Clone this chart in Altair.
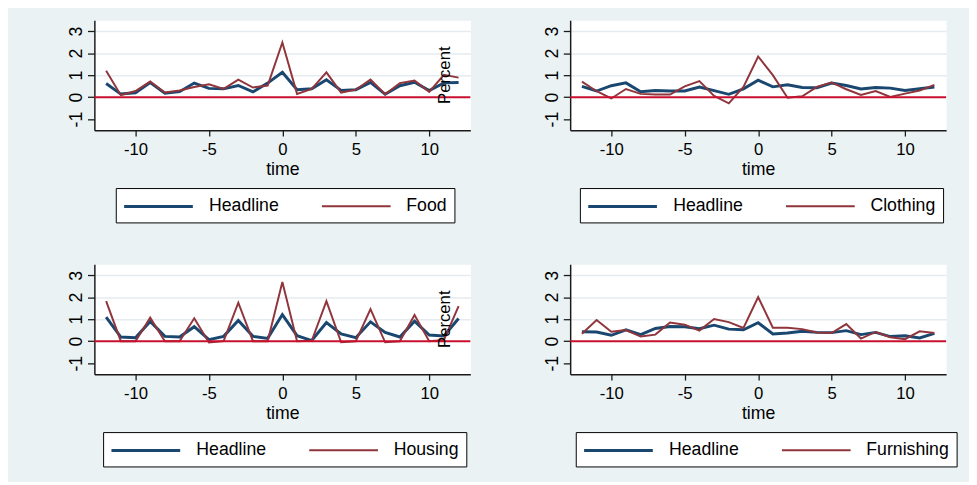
import altair as alt
import pandas as pd

# ---------------- data ----------------
time = [-12, -11, -10, -9, -8, -7, -6, -5, -4, -3, -2, -1, 0,
        1, 2, 3, 4, 5, 6, 7, 8, 9, 10, 11, 12]

headline_food = [0.62, 0.14, 0.20, 0.66, 0.18, 0.25, 0.64, 0.40, 0.38, 0.53, 0.24, 0.64, 1.13,
                 0.34, 0.38, 0.79, 0.31, 0.34, 0.67, 0.13, 0.52, 0.68, 0.30, 0.65, 0.67]
food = [1.20, 0.09, 0.28, 0.71, 0.21, 0.30, 0.46, 0.59, 0.38, 0.80, 0.44, 0.53, 2.49,
        0.15, 0.38, 1.13, 0.21, 0.34, 0.80, 0.13, 0.64, 0.76, 0.24, 1.02, 0.89]

headline_clothing = [0.49, 0.28, 0.52, 0.65, 0.25, 0.30, 0.28, 0.28, 0.46, 0.30, 0.13, 0.38, 0.77,
                     0.47, 0.56, 0.44, 0.43, 0.64, 0.53, 0.37, 0.44, 0.41, 0.30, 0.38, 0.46]
clothing = [0.71, 0.27, -0.06, 0.37, 0.15, 0.12, 0.12, 0.49, 0.73, 0.06, -0.28, 0.47, 1.85,
            1.00, -0.03, 0.04, 0.47, 0.67, 0.36, 0.10, 0.28, 0.01, 0.16, 0.30, 0.56]

headline_housing = [1.09, 0.19, 0.16, 0.90, 0.22, 0.19, 0.66, 0.07, 0.22, 0.94, 0.22, 0.13, 1.21,
                    0.25, 0.03, 0.85, 0.33, 0.16, 0.88, 0.40, 0.19, 0.91, 0.28, 0.24, 1.03]
housing = [1.82, 0.00, 0.00, 1.07, 0.00, 0.00, 1.04, -0.06, 0.00, 1.75, 0.00, 0.00, 2.69,
           0.00, 0.02, 1.82, -0.05, 0.00, 1.46, -0.05, 0.00, 1.19, 0.00, 0.05, 1.60]

headline_furnishing = [0.43, 0.42, 0.27, 0.52, 0.30, 0.58, 0.67, 0.66, 0.57, 0.73, 0.55, 0.52, 0.84,
                       0.33, 0.37, 0.45, 0.40, 0.39, 0.48, 0.30, 0.40, 0.21, 0.25, 0.15, 0.36]
furnishing = [0.34, 0.96, 0.43, 0.51, 0.21, 0.30, 0.85, 0.75, 0.48, 1.01, 0.87, 0.60, 2.01,
              0.61, 0.61, 0.55, 0.40, 0.37, 0.78, 0.12, 0.42, 0.18, 0.09, 0.45, 0.37]

x_ticks = [-10, -5, 0, 5, 10]
y_ticks = [-1, 0, 1, 2, 3]
zero_line = [0]
annot_label = ["Percent"]
annot_time = [11.4]
annot_value = [1.0]

# ---------------- style ----------------
FONT = "Liberation Sans"
BLUE = "#1A476F"
MAROON = "#90353B"
ZERO_RED = "#C8102E"
BG = "#EAF2F3"

W, H = 383, 112
LEGEND_SYMBOL = "M-1,0L6,0"   # long horizontal stroke, like Stata's key

X_SCALE = alt.Scale(domain=[-12.8, 12.8], nice=False, zero=False)
Y_SCALE = alt.Scale(domain=[-1.5, 3.5], nice=False, zero=False)
X_AXIS = alt.Axis(values=x_ticks, title="time", labelFontSize=17,
                  tickSize=6, labelPadding=6, titlePadding=3,
                  labelOverlap=False, grid=False,
                  labelExpr="'' + datum.value")
Y_AXIS = alt.Axis(values=y_ticks, title=None, labelAngle=270,
                  labelAlign="center", labelBaseline="alphabetic",
                  labelFontSize=18, tickSize=7, labelPadding=6,
                  labelOverlap=False, tickCount=5,
                  labelExpr="'' + datum.value",
                  grid=True,
                  gridColor=alt.condition("datum.value > 0",
                                          alt.value("#E4ECEF"),
                                          alt.value("transparent")))


def panel(name, head, other, percent, legend_x):
    df = pd.DataFrame({
        "time": time + time,
        "value": head + other,
        "series": ["Headline"] * len(time) + [name] * len(time),
    })
    x = alt.X("time:Q", scale=X_SCALE, axis=X_AXIS)
    y = alt.Y("value:Q", scale=Y_SCALE, axis=Y_AXIS)
    lines = alt.Chart(df).mark_line().encode(
        x=x, y=y,
        color=alt.Color("series:N",
                        scale=alt.Scale(domain=["Headline", name], range=[BLUE, MAROON]),
                        legend=alt.Legend(title=None, orient="none",
                                          legendX=legend_x, legendY=171,
                                          direction="horizontal",
                                          symbolType=LEGEND_SYMBOL,
                                          symbolSize=400, labelOffset=65)),
        strokeWidth=alt.StrokeWidth("series:N",
                                    scale=alt.Scale(domain=["Headline", name], range=[3, 2]),
                                    legend=None),
    )
    zero = alt.Chart(pd.DataFrame({"value": zero_line})).mark_rule(
        color=ZERO_RED, strokeWidth=2).encode(
        y=alt.Y("value:Q", scale=Y_SCALE, axis=Y_AXIS))
    layers = [lines, zero]
    if percent:
        txt = alt.Chart(pd.DataFrame({"time": annot_time, "value": annot_value,
                                      "label": annot_label})).mark_text(
            angle=270, align="center", baseline="alphabetic", fontSize=17,
            font=FONT, color="black").encode(
            x=alt.X("time:Q", scale=X_SCALE, axis=X_AXIS),
            y=alt.Y("value:Q", scale=Y_SCALE, axis=Y_AXIS),
            text="label:N")
        layers.append(txt)
    return alt.layer(*layers).properties(width=W, height=H)


p1 = panel("Food", headline_food, food, True, 21.8)
p2 = panel("Clothing", headline_clothing, clothing, False, 9.9)
p3 = panel("Housing", headline_housing, housing, True, 8.9)
p4 = panel("Furnishing", headline_furnishing, furnishing, False, 5.7)

chart = alt.concat(p1, p2, p3, p4, columns=2,
                   spacing={"row": 40.6, "column": 71.7}).resolve_scale(
    color="independent", strokeWidth="independent"
).properties(
    background=BG,
    padding={"left": 60, "top": 7, "right": 11, "bottom": 10},
).configure_view(
    fill="white", stroke="transparent"
).configure_axis(
    labelFont=FONT, titleFont=FONT, labelColor="black", titleColor="black",
    titleFontSize=18, titleFontWeight="normal",
    domainColor="#1a1a1a", domainWidth=1.5, tickColor="#1a1a1a", tickWidth=1.3,
    gridWidth=1.5, labelOverlap=False,
).configure_legend(
    labelFont=FONT, labelFontSize=18, labelColor="black",
    strokeColor="black", fillColor="white", padding=7,
    symbolStrokeWidth=2.5, columnPadding=39,
)

chart.save("out.html", embed_options={"renderer": "svg", "actions": False})
